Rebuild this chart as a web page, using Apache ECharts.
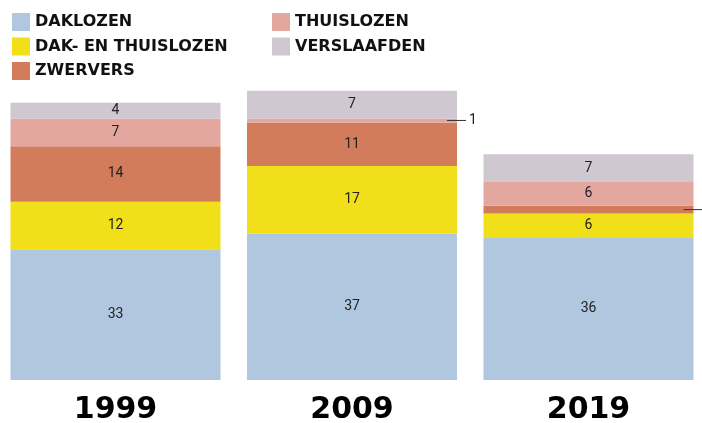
<!DOCTYPE html>
<html><head><meta charset="utf-8">
<script src="https://cdn.jsdelivr.net/npm/echarts@6/dist/echarts.min.js"></script>
<style>html,body{margin:0;padding:0;background:#fff;overflow:hidden;width:702px;height:423px;position:relative}#c{position:absolute;left:-4px;top:0;width:711px;height:423px}</style>
</head><body><div id="c"></div>
<script>
const years = ['1999', '2009', '2019'];
const daklozen = [33, 37, 36];
const dakEnThuislozen = [12, 17, 6];
const zwervers = [14, 11, 2];
const thuislozen = [7, 1, 6];
const verslaafden = [4, 7, 7];
const seriesNames = ['DAKLOZEN', 'DAK- EN THUISLOZEN', 'ZWERVERS', 'THUISLOZEN', 'VERSLAAFDEN'];
const colors = ['#b0c7df', '#f0df19', '#d27c5c', '#e3a7a0', '#cfc8d1'];
const allData = [daklozen, dakEnThuislozen, zwervers, thuislozen, verslaafden];

const smallLabel = {
  show: true,
  position: ['100%', '50%'],
  offset: [-10, 0],
  align: 'left',
  verticalAlign: 'middle',
  formatter: p => '{ln|}{v|' + p.value + '}',
  rich: {
    ln: { width: 19, height: 1, backgroundColor: '#333', verticalAlign: 'middle' },
    v: { fontSize: 14, color: '#222', fontFamily: 'Roboto', padding: [0, 0, 0, 3] }
  }
};

const series = allData.map((arr, i) => ({
  name: seriesNames[i],
  type: 'bar',
  stack: 'total',
  barWidth: 210,
  itemStyle: { color: colors[i] },
  label: { show: true, position: 'inside', color: '#222', fontSize: 14, fontFamily: 'Roboto' },
  data: arr.map(v => v <= 2 ? { value: v, label: smallLabel } : v)
}));

const chart = echarts.init(document.getElementById('c'), null, { renderer: 'canvas' });
const legendText = { fontFamily: 'DejaVu Sans', fontWeight: 'bold', fontSize: 16, color: '#111' };
chart.setOption({
  animation: false,
  color: colors,
  legend: [
    { data: seriesNames.slice(0, 3), orient: 'vertical', left: 16, top: 13, padding: 0, itemWidth: 18, itemHeight: 18, itemGap: 6.5, icon: 'rect', textStyle: legendText, selectedMode: false },
    { data: seriesNames.slice(3), orient: 'vertical', left: 276, top: 13, padding: 0, itemWidth: 18, itemHeight: 18, itemGap: 6.5, icon: 'rect', textStyle: legendText, selectedMode: false }
  ],
  grid: { left: 1.25, right: 0.25, top: 63, bottom: 43, containLabel: false, outerBoundsMode: 'none' },
  xAxis: {
    type: 'category', data: years,
    axisLine: { show: false }, axisTick: { show: false },
    axisLabel: { margin: 15, fontSize: 30, fontWeight: 'bold', fontFamily: 'DejaVu Sans', color: '#000', verticalAlign: 'top' }
  },
  yAxis: { type: 'value', min: 0, max: 80, show: false, splitLine: { show: false } },
  series: series
});
</script></body></html>
